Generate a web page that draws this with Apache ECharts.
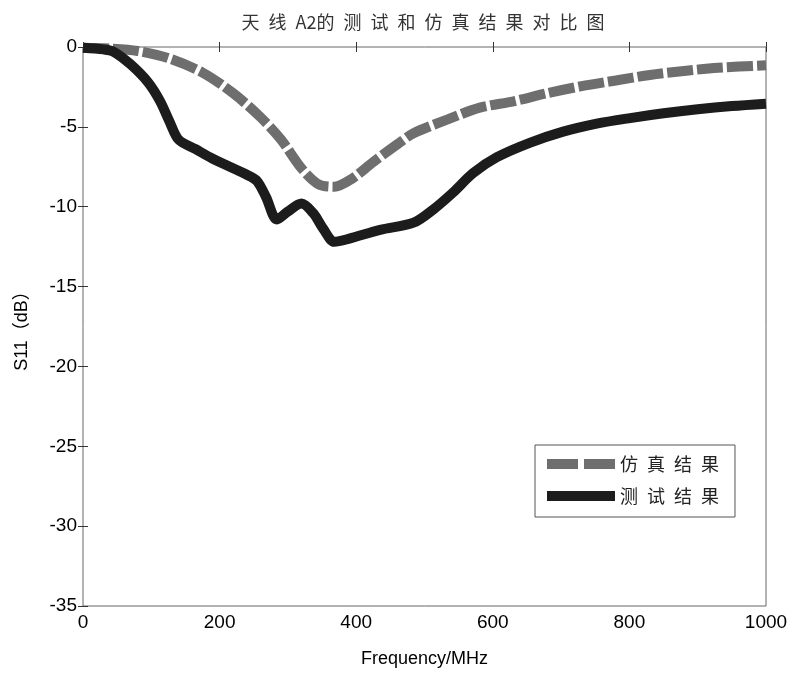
<!DOCTYPE html>
<html>
<head>
<meta charset="utf-8">
<script src="https://cdn.jsdelivr.net/npm/echarts@6/dist/echarts.min.js"></script>
<style>
  html, body { margin: 0; padding: 0; background: #fff; }
  #main { width: 791px; height: 673px; }
</style>
</head>
<body>
<div id="main"></div>
<script>
// simulated S11 (dB) vs frequency (MHz)
var simFreq = [0, 40, 80, 125, 175, 220, 260, 290, 320, 345, 368, 392, 425, 460, 484, 533, 581, 630, 679, 730, 780, 830, 880, 930, 1000];
var simVal = [-0.05, -0.1, -0.25, -0.7, -1.6, -2.9, -4.4, -5.8, -7.6, -8.6, -8.75, -8.3, -7.2, -6.1, -5.4, -4.55, -3.8, -3.4, -2.9, -2.45, -2.1, -1.75, -1.5, -1.3, -1.15];

// measured S11 (dB) vs frequency (MHz)
var measFreq = [0, 30, 45, 70, 95, 113, 127, 140, 165, 190, 215, 240, 255, 268, 284, 300, 320, 337, 352, 368, 390, 435, 484, 512, 542, 571, 606, 654, 703, 752, 801, 850, 900, 950, 1000];
var measVal = [-0.05, -0.15, -0.3, -1.1, -2.2, -3.4, -4.7, -5.8, -6.4, -7.0, -7.5, -8.0, -8.4, -9.4, -10.8, -10.3, -9.8, -10.4, -11.4, -12.2, -12.0, -11.45, -11.0, -10.2, -9.1, -7.9, -6.9, -6.0, -5.3, -4.8, -4.45, -4.15, -3.9, -3.7, -3.55];

var seriesNames = ['仿真结果', '测试结果'];

function pairs(xs, ys) {
  var out = [];
  for (var i = 0; i < xs.length; i++) out.push([xs[i], ys[i]]);
  return out;
}

// spread CJK characters apart like the original figure
function spaced(s) { return s.split('').join('\u2002'); }

var chart = echarts.init(document.getElementById('main'));

var tickFont = { color: '#000', fontSize: 19, fontFamily: 'Liberation Sans, Arial, sans-serif' };
var tickIn = { inside: true, length: 5, lineStyle: { color: '#333' } };

var option = {
  backgroundColor: '#fff',
  animation: false,
  title: {
    text: '天\u2002线\u2002A2的\u2002测\u2002试\u2002和\u2002仿\u2002真\u2002结\u2002果\u2002对\u2002比\u2002图',
    left: 418,
    textAlign: 'center',
    top: 8,
    textStyle: { color: '#333', fontSize: 18, fontWeight: 'normal', fontFamily: 'Noto Sans CJK SC' }
  },
  grid: { left: 83, right: 25, top: 47, bottom: 66, show: true, borderColor: '#666', borderWidth: 1 },
  legend: {
    data: [
      { name: seriesNames[0], icon: 'path://M0,0h31v10h-31z M37,0h31v10h-31z' },
      { name: seriesNames[1], icon: 'rect' }
    ],
    orient: 'vertical',
    left: 535,
    top: 445,
    itemWidth: 68,
    itemHeight: 10,
    itemGap: 8,
    padding: [7, 16, 9, 12],
    borderColor: '#555',
    borderWidth: 1,
    backgroundColor: '#fff',
    borderRadius: 0,
    formatter: spaced,
    textStyle: { color: '#222', fontSize: 18, lineHeight: 24, fontFamily: 'Noto Sans CJK SC' }
  },
  xAxis: [{
    type: 'value',
    min: 0, max: 1000, interval: 200,
    name: 'Frequency/MHz',
    nameLocation: 'middle',
    nameGap: 44,
    nameTextStyle: { color: '#000', fontSize: 18, fontFamily: 'Liberation Sans, Arial, sans-serif' },
    axisLine: { show: false },
    axisTick: tickIn,
    axisLabel: Object.assign({ margin: 7, formatter: function (v) { return String(v); } }, tickFont),
    splitLine: { show: false }
  }, {
    type: 'value',
    position: 'top',
    min: 0, max: 1000, interval: 200,
    axisLine: { show: false },
    axisTick: tickIn,
    axisLabel: { show: false },
    splitLine: { show: false }
  }],
  yAxis: [{
    type: 'value',
    min: -35, max: 0, interval: 5,
    name: 'S11（dB）',
    nameLocation: 'middle',
    nameGap: 52,
    nameTextStyle: { color: '#000', fontSize: 18, fontFamily: 'Liberation Sans, Noto Sans CJK SC, sans-serif' },
    axisLine: { show: false },
    axisTick: tickIn,
    axisLabel: Object.assign({ margin: 6 }, tickFont),
    splitLine: { show: false }
  }, {
    type: 'value',
    position: 'right',
    min: -35, max: 0, interval: 5,
    axisLine: { show: false },
    axisTick: tickIn,
    axisLabel: { show: false },
    splitLine: { show: false }
  }],
  series: [{
    name: seriesNames[0],
    type: 'line',
    data: pairs(simFreq, simVal),
    smooth: 0.3,
    symbol: 'none',
    color: '#6e6e6e',
    lineStyle: { color: '#6e6e6e', width: 10, type: [26, 4], cap: 'butt' },
    z: 2
  }, {
    name: seriesNames[1],
    type: 'line',
    data: pairs(measFreq, measVal),
    smooth: 0.3,
    symbol: 'none',
    color: '#1c1c1c',
    lineStyle: { color: '#1c1c1c', width: 10, type: 'solid' },
    z: 3
  }]
};

chart.setOption(option);
</script>
</body>
</html>
